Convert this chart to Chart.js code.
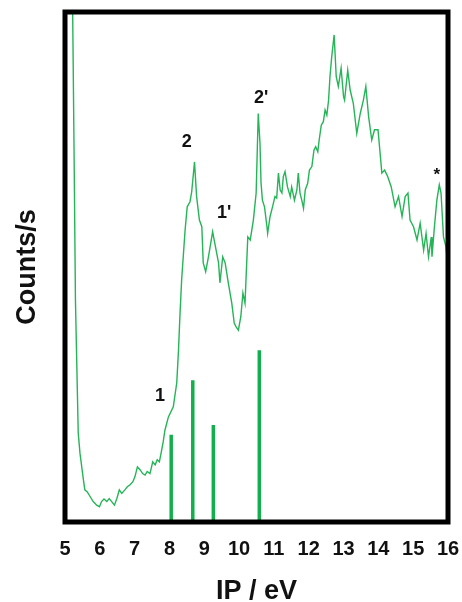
<!DOCTYPE html>
<html>
<head>
<meta charset="utf-8">
<script src="https://cdn.jsdelivr.net/npm/chart.js@4.4.0/dist/chart.umd.min.js"></script>
<style>
    html, body { margin: 0; padding: 0; background: #fff; }
    #wrap { width: 462px; height: 602px; }
</style>
</head>
<body>
<div id="wrap"><canvas id="spectrum"></canvas></div>
<script>
// Photoelectron spectrum (IP in eV vs counts, arbitrary units 0-100)
const ipValues = [
    5.22, 5.26, 5.30, 5.34, 5.38, 5.43, 5.53, 5.57, 5.64, 5.72, 5.81, 5.91, 5.99, 6.05, 6.12, 6.20,
    6.27, 6.34, 6.42, 6.49, 6.56, 6.63, 6.72, 6.79, 6.87, 6.95, 7.01, 7.08, 7.16, 7.23, 7.30, 7.36,
    7.44, 7.52, 7.59, 7.65, 7.71, 7.76, 7.82, 7.87, 7.97,
    8.11, 8.21, 8.26, 8.30, 8.35, 8.45, 8.51, 8.59, 8.64, 8.72, 8.78, 8.86, 8.93, 8.97, 9.04, 9.12,
    9.24, 9.34, 9.41, 9.45, 9.53, 9.60, 9.69, 9.79, 9.86, 9.91, 9.98, 10.05, 10.11, 10.17, 10.25, 10.32,
    10.41, 10.49, 10.55, 10.60, 10.63, 10.67, 10.73, 10.80, 10.82, 10.89, 10.96, 11.03, 11.08, 11.13,
    11.18, 11.23, 11.27, 11.32, 11.39, 11.47, 11.51, 11.59, 11.66, 11.70, 11.75, 11.80, 11.85, 11.90,
    11.97, 12.02, 12.09, 12.15, 12.20, 12.26, 12.30, 12.36, 12.42, 12.47, 12.52, 12.57, 12.61, 12.66,
    12.73, 12.79, 12.85, 12.93, 13.00, 13.03, 13.12, 13.19, 13.28, 13.38, 13.48, 13.57, 13.64, 13.72,
    13.81, 13.89, 13.99, 14.05, 14.10, 14.18, 14.27, 14.37, 14.48, 14.58, 14.68, 14.77, 14.85, 14.91,
    15.01, 15.11, 15.20, 15.30, 15.37, 15.44, 15.52, 15.54, 15.61, 15.68, 15.75, 15.80, 15.87, 15.94, 16.01
];
const counts = [
    100, 72.9, 43.5, 30.5, 17.5, 13.5, 8.2, 6.3, 5.9, 5.0, 4.0, 3.3, 3.0, 4.0, 4.5, 4.0,
    4.6, 4.0, 3.3, 4.6, 6.3, 5.6, 6.3, 6.9, 7.3, 7.9, 8.9, 10.8, 10.2, 9.5, 9.2, 9.9,
    9.5, 11.8, 11.2, 12.2, 11.8, 13.5, 15.7, 18.0, 20.6,
    22.6, 27.3, 33.7, 40.3, 47.5, 57.3, 61.8, 62.8, 64.8, 70.6, 63.8, 59.2, 57.9, 50.8, 49.1, 52.0,
    56.9, 53.3, 50.8, 46.9, 52.0, 50.8, 46.9, 42.9, 39.0, 38.3, 37.6, 40.3, 44.9, 42.9, 55.9, 55.3,
    59.2, 64.5, 80.1, 74.3, 66.5, 63.1, 61.8, 57.9, 56.6, 59.9, 61.8, 63.8, 63.5, 68.4,
    65.1, 64.5, 67.7, 68.7, 65.7, 63.8, 65.7, 63.1, 65.1, 68.4, 64.5, 63.1, 61.5, 65.1,
    66.4, 69.0, 69.7, 72.9, 73.6, 72.6, 74.9, 77.8, 78.5, 80.8, 79.8, 82.7, 87.3, 91.2,
    95.5, 87.3, 85.4, 89.0, 83.4, 82.7, 88.6, 84.7, 82.1, 76.2, 80.1, 82.7, 85.4, 79.5,
    74.9, 76.9, 76.9, 72.3, 68.4, 69.0, 67.7, 65.7, 61.8, 63.8, 59.9, 63.8, 64.5, 59.2,
    57.9, 55.3, 58.6, 53.3, 56.6, 52.0, 55.9, 52.0, 57.9, 63.1, 66.1, 64.5, 55.9, 54.0, 49.4
];

// calculated ionisation energies (stick spectrum)
const stickIPs = [8.05, 8.67, 9.26, 10.58];
const stickHeights = [17.1, 27.8, 19.0, 33.7];

// band labels
const peakLabels = ['1', '2', "1'", "2'", '*'];
const peakLabelIPs = [7.73, 8.50, 9.57, 10.63, 15.68];
const peakLabelCounts = [24.7, 74.5, 60.6, 83.1, 68.0];

const xTicks = [5, 6, 7, 8, 9, 10, 11, 12, 13, 14, 15, 16];

const spectrumPoints = ipValues.map((x, i) => ({ x: x, y: counts[i] }));
const stickPoints = [];
stickIPs.forEach((x, i) => {
    stickPoints.push({ x: x, y: 0 }, { x: x, y: stickHeights[i] }, { x: x, y: null });
});

// black frame round the plot area
const framePlugin = {
    id: 'frame',
    afterDatasetsDraw(chart) {
        const a = chart.chartArea;
        const ctx = chart.ctx;
        ctx.save();
        ctx.strokeStyle = '#000';
        ctx.lineWidth = 5;
        ctx.strokeRect(a.left, a.top, a.right - a.left, a.bottom - a.top);
        ctx.restore();
    }
};

// peak labels placed in data coordinates
const labelPlugin = {
    id: 'peakLabels',
    afterDatasetsDraw(chart) {
        const ctx = chart.ctx;
        const xs = chart.scales.x;
        const ys = chart.scales.y;
        ctx.save();
        ctx.fillStyle = '#111';
        ctx.textAlign = 'center';
        ctx.textBaseline = 'middle';
        peakLabels.forEach((t, i) => {
            ctx.font = t === '*' ? 'bold 17px "Liberation Sans", Arial' : 'bold 18px "Liberation Sans", Arial';
            ctx.fillText(t, xs.getPixelForValue(peakLabelIPs[i]), ys.getPixelForValue(peakLabelCounts[i]));
        });
        ctx.restore();
    }
};

new Chart(document.getElementById('spectrum'), {
    type: 'line',
    data: {
        datasets: [{
            label: 'Spectrum',
            data: spectrumPoints,
            borderColor: '#25b457',
            borderWidth: 1.4,
            pointRadius: 0,
            tension: 0,
            fill: false
        }, {
            label: 'Calculated',
            data: stickPoints,
            borderColor: '#12b04c',
            borderWidth: 3.5,
            pointRadius: 0,
            spanGaps: false,
            fill: false
        }]
    },
    plugins: [framePlugin, labelPlugin],
    options: {
        responsive: true,
        maintainAspectRatio: false,
        animation: false,
        layout: {
            padding: { top: 12, right: 14, bottom: 0, left: 0 }
        },
        plugins: {
            legend: { display: false },
            tooltip: { enabled: false }
        },
        scales: {
            x: {
                type: 'linear',
                min: 5,
                max: 16,
                afterBuildTicks: (scale) => {
                    scale.ticks = xTicks.map(v => ({ value: v }));
                },
                afterFit: (scale) => {
                    scale.height = 80;
                    scale.paddingLeft = 0;
                    scale.paddingRight = 0;
                },
                grid: { display: false, drawTicks: false },
                border: { display: false },
                ticks: {
                    color: '#111',
                    padding: 15,
                    maxRotation: 0,
                    autoSkip: false,
                    font: { family: '"Liberation Sans", Arial', size: 20, weight: 'bold' }
                },
                title: {
                    display: true,
                    text: 'IP / eV',
                    color: '#111',
                    padding: { top: 0, bottom: -3 },
                    font: { family: '"Liberation Sans", Arial', size: 27, weight: 'bold', lineHeight: 1 }
                }
            },
            y: {
                min: 0,
                max: 100,
                afterFit: (scale) => { scale.width = 65; },
                grid: { display: false, drawTicks: false },
                border: { display: false },
                ticks: { display: false },
                title: {
                    display: true,
                    text: 'Counts/s',
                    color: '#111',
                    padding: { top: 11, bottom: 0 },
                    font: { family: '"Liberation Sans", Arial', size: 27, weight: 'bold' }
                }
            }
        }
    }
});
</script>
</body>
</html>
